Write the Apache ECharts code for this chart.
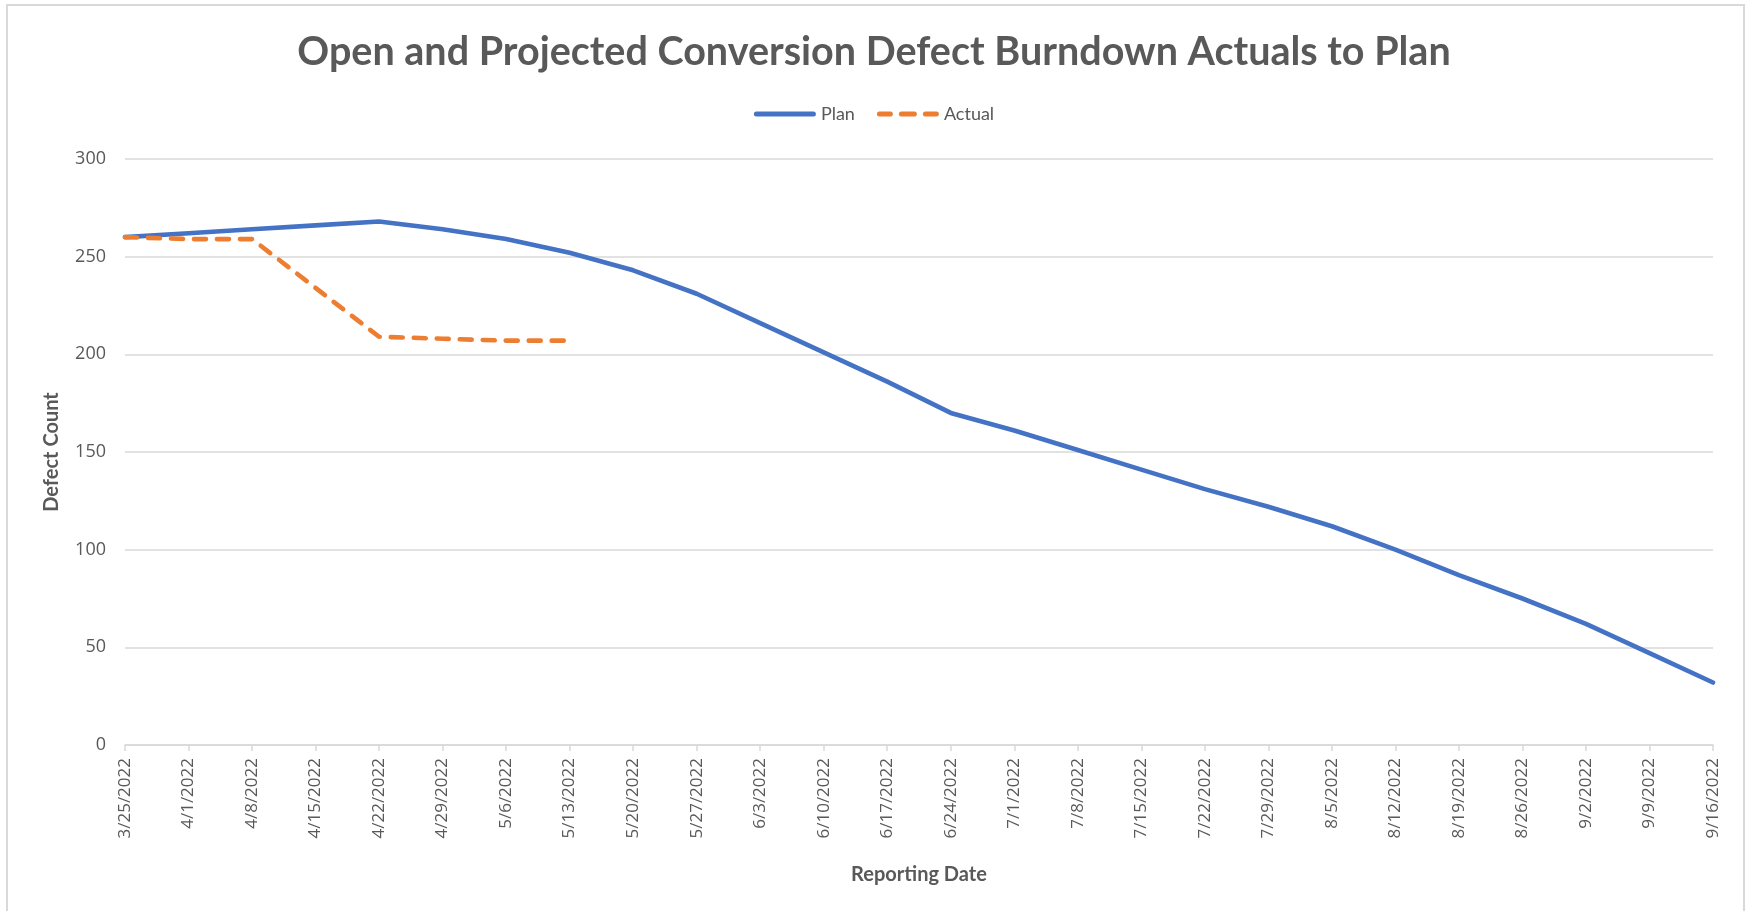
<!DOCTYPE html>
<html>
<head>
<meta charset="utf-8">
<title>Open and Projected Conversion Defect Burndown Actuals to Plan</title>
<script src="https://cdn.jsdelivr.net/npm/echarts@6/dist/echarts.min.js"></script>
<style>
  html, body { margin: 0; padding: 0; background: #ffffff; }
  #chart { width: 1748px; height: 911px; }
</style>
</head>
<body>
<div id="chart"></div>
<script>
// Weekly reporting dates (category axis)
const reportingDates = [
  '3/25/2022', '4/1/2022', '4/8/2022', '4/15/2022', '4/22/2022', '4/29/2022',
  '5/6/2022', '5/13/2022', '5/20/2022', '5/27/2022', '6/3/2022', '6/10/2022',
  '6/17/2022', '6/24/2022', '7/1/2022', '7/8/2022', '7/15/2022', '7/22/2022',
  '7/29/2022', '8/5/2022', '8/12/2022', '8/19/2022', '8/26/2022', '9/2/2022',
  '9/9/2022', '9/16/2022'
];

// Planned open defect count per week
const planDefects = [
  260, 262, 264, 266, 268, 264, 259, 252, 243, 231, 216, 201, 186,
  170, 161, 151, 141, 131, 122, 112, 100, 87, 75, 62, 47, 32
];

// Actual open defect count reported so far
const actualDefects = [260, 259, 259, 234, 209, 208, 207, 207];

// Defect count axis ticks
const countMin = 0;
const countMax = 300;
const countStep = 50;

const textGray = '#595959';
const gridGray = '#d9d9d9';
const planBlue = '#4472C4';
const actualOrange = '#ED7D31';

// Legend keys: a solid bar for the plan, three short dashes for the actuals
const planKey = 'path://M2.5,0H59.5A2.5,2.5,0,0,1,59.5,5H2.5A2.5,2.5,0,0,1,2.5,0Z';
const actualKey = 'path://M2.5,0H13.5A2.5,2.5,0,0,1,13.5,5H2.5A2.5,2.5,0,0,1,2.5,0Z' +
  'M24.5,0H37.5A2.5,2.5,0,0,1,37.5,5H24.5A2.5,2.5,0,0,1,24.5,0Z' +
  'M48.5,0H59.5A2.5,2.5,0,0,1,59.5,5H48.5A2.5,2.5,0,0,1,48.5,0Z';

const chart = echarts.init(document.getElementById('chart'), null, { renderer: 'canvas' });

chart.setOption({
  backgroundColor: '#ffffff',
  animation: false,
  graphic: [{
    type: 'rect',
    silent: true,
    shape: { x: 7, y: 5, width: 1737, height: 930 },
    style: { fill: 'none', stroke: gridGray, lineWidth: 2 }
  }],
  title: {
    text: 'Open and Projected Conversion Defect Burndown Actuals to Plan',
    left: 'center',
    top: 27,
    textStyle: {
      fontFamily: 'Lato',
      fontWeight: 'bold',
      fontSize: 39.5,
      color: textGray
    }
  },
  legend: {
    top: 100,
    left: 'center',
    itemWidth: 62,
    itemHeight: 5,
    itemGap: 22,
    textStyle: { fontFamily: 'Lato', fontSize: 18, color: textGray },
    data: [
      { name: 'Plan', icon: planKey, itemStyle: { color: planBlue } },
      { name: 'Actual', icon: actualKey, itemStyle: { color: actualOrange } }
    ]
  },
  grid: {
    left: 125,
    right: 35,
    top: 159,
    bottom: 166,
    containLabel: false
  },
  xAxis: {
    type: 'category',
    boundaryGap: false,
    data: reportingDates,
    name: 'Reporting Date',
    nameLocation: 'middle',
    nameGap: 120,
    nameTextStyle: { fontFamily: 'Lato', fontWeight: 'bold', fontSize: 20, color: textGray },
    axisLine: { lineStyle: { color: gridGray, width: 1.5 } },
    axisTick: { show: true, alignWithLabel: true, length: 6, lineStyle: { color: gridGray, width: 1.5 } },
    axisLabel: {
      interval: 0,
      rotate: 90,
      margin: 13,
      fontFamily: 'Open Sans',
      fontSize: 17,
      color: textGray
    },
    splitLine: { show: false }
  },
  yAxis: {
    type: 'value',
    min: countMin,
    max: countMax,
    interval: countStep,
    name: 'Defect Count',
    nameLocation: 'middle',
    nameGap: 63,
    nameRotate: 90,
    nameTextStyle: { fontFamily: 'Lato', fontWeight: 'bold', fontSize: 20, color: textGray },
    axisLine: { show: false },
    axisTick: { show: false },
    axisLabel: { margin: 19, fontFamily: 'Open Sans', fontSize: 18, color: textGray },
    splitLine: { lineStyle: { color: gridGray, width: 1.5 } }
  },
  series: [
    {
      name: 'Plan',
      type: 'line',
      data: planDefects,
      symbol: 'none',
      lineStyle: { color: planBlue, width: 4.6, cap: 'round', join: 'round' },
      itemStyle: { color: planBlue },
      z: 3
    },
    {
      name: 'Actual',
      type: 'line',
      data: actualDefects,
      symbol: 'none',
      lineStyle: { color: actualOrange, width: 4.6, type: [12, 11], cap: 'round', join: 'round' },
      itemStyle: { color: actualOrange },
      z: 4
    }
  ]
});
</script>
</body>
</html>
